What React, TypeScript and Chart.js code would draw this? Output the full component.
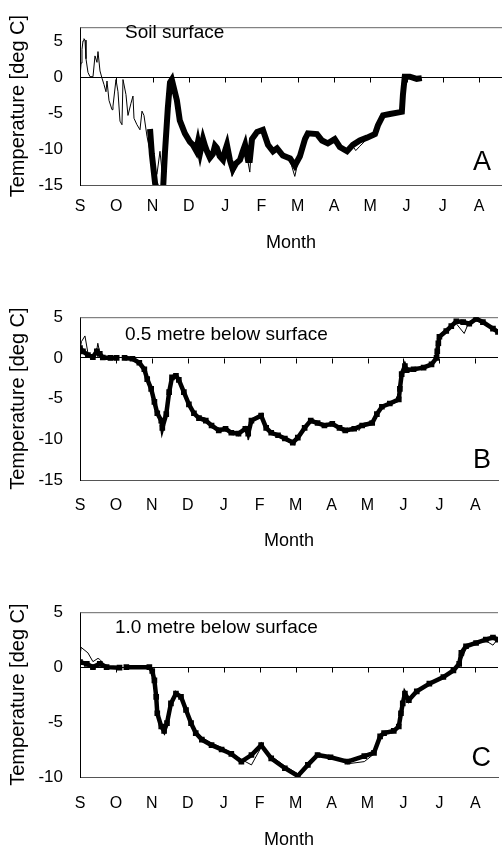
import React, { useEffect, useRef } from "react";
import { Chart, registerables } from "chart.js";
Chart.register(...registerables);

const FONT = "'Liberation Sans', Arial, sans-serif";
const MONTHS = ["S", "O", "N", "D", "J", "F", "M", "A", "M", "J", "J", "A"];
const X_MAX = 11.63;

// Panel A: soil surface (x = months since 1 September)
const A_MODEL_X = [1.93, 1.98, 2.07, 2.12, 2.29, 2.34, 2.42, 2.48, 2.53, 2.67, 2.75, 2.89, 3.03, 3.11, 3.20, 3.25, 3.31, 3.39, 3.45, 3.50, 3.58, 3.66, 3.72, 3.77, 3.85, 3.94, 4.00, 4.05, 4.13, 4.21, 4.30, 4.41, 4.48, 4.55, 4.63, 4.68, 4.74, 4.88, 5.04, 5.18, 5.32, 5.43, 5.59, 5.79, 5.92, 6.06, 6.20, 6.28, 6.53, 6.67, 6.83, 7.02, 7.16, 7.36, 7.52, 7.71, 7.91, 8.13, 8.21, 8.35, 8.54, 8.87, 8.90, 8.95, 9.09, 9.28, 9.42];
const A_MODEL_Y = [-7.2, -10.7, -14.8, -15.5, -15.5, -10.6, -4.3, -0.7, -0.3, -3.2, -6.0, -7.8, -9.0, -9.4, -10.2, -9.0, -10.5, -8.6, -9.6, -10.3, -11.2, -10.7, -9.5, -9.8, -11.0, -11.5, -10.2, -9.4, -11.5, -12.8, -12.0, -11.5, -10.4, -9.4, -11.5, -11.5, -8.6, -7.6, -7.3, -9.4, -10.3, -9.9, -10.9, -11.3, -12.3, -11.0, -8.6, -7.8, -7.9, -8.8, -9.2, -8.6, -9.7, -10.3, -9.4, -8.8, -8.4, -7.9, -6.7, -5.3, -5.1, -4.8, -2.4, 0.1, 0.1, -0.2, -0.1];
const A_MEAS_X = [0, 0.03, 0.055, 0.083, 0.11, 0.138, 0.165, 0.22, 0.275, 0.358, 0.413, 0.468, 0.496, 0.551, 0.606, 0.661, 0.716, 0.744, 0.799, 0.882, 0.909, 0.992, 1.047, 1.102, 1.157, 1.185, 1.267, 1.322, 1.405, 1.460, 1.488, 1.570, 1.653, 1.708, 1.763, 1.846, 1.928, 2.011, 2.121, 2.204, 2.29, 2.34, 2.42, 2.48, 2.53, 2.67, 2.75, 2.89, 3.03, 3.11, 3.31, 3.39, 3.50, 3.66, 3.77, 3.94, 4.05, 4.13, 4.19, 4.41, 4.55, 4.63, 4.68, 4.74, 4.88, 5.04, 5.18, 5.32, 5.43, 5.59, 5.79, 5.92, 6.06, 6.20, 6.28, 6.53, 6.67, 6.83, 7.02, 7.16, 7.36, 7.52, 7.60, 7.71, 7.91, 8.13, 8.21, 8.35, 8.54, 8.87, 8.90, 8.95, 9.09, 9.28, 9.45];
const A_MEAS_Y = [0, 2.0, 3.9, 5.1, 5.4, 5.2, 2.6, 0.7, 0.1, 0.1, 3.0, 2.1, 3.6, 0.9, -0.1, -1.0, -2.0, -0.5, -3.2, -4.5, -4.0, -0.3, -2.0, -6.1, -6.6, -0.3, -2.4, -5.3, -3.6, -2.6, -5.7, -6.6, -7.3, -4.7, -5.3, -8.2, -10.3, -12.3, -13.5, -10.3, -14.5, -10.4, -4.2, -0.8, -0.4, -3.0, -6.2, -7.6, -9.2, -9.0, -10.2, -8.2, -10.6, -10.2, -9.4, -11.8, -9.0, -11.2, -13.8, -11.2, -9.0, -11.8, -13.2, -8.3, -7.8, -7.5, -9.6, -10.0, -10.2, -10.6, -11.6, -13.8, -10.6, -8.4, -7.6, -8.1, -8.6, -9.4, -8.4, -9.9, -10.1, -9.6, -10.2, -9.6, -8.6, -7.7, -6.9, -5.5, -5.2, -4.9, -2.2, 0.2, 0.0, -0.1, 0.0];

// Panel B: 0.5 m below surface
const B_MODEL_X = [0, 0.083, 0.22, 0.358, 0.468, 0.551, 0.634, 0.85, 1.02, 1.13, 1.24, 1.46, 1.65, 1.79, 1.87, 1.98, 2.07, 2.15, 2.26, 2.29, 2.40, 2.48, 2.56, 2.67, 2.75, 2.89, 3.03, 3.17, 3.31, 3.50, 3.66, 3.86, 4.05, 4.21, 4.41, 4.60, 4.68, 4.77, 5.04, 5.18, 5.32, 5.51, 5.70, 5.92, 6.06, 6.25, 6.42, 6.61, 6.80, 7.02, 7.22, 7.38, 7.63, 7.85, 8.13, 8.26, 8.40, 8.62, 8.87, 8.90, 8.95, 9.04, 9.09, 9.28, 9.56, 9.78, 9.92, 9.94, 9.97, 10.0, 10.19, 10.33, 10.47, 10.66, 10.83, 11.02, 11.21, 11.49, 11.63];
const B_MODEL_Y = [1.2, 0.8, 0.35, 0.1, 0.8, 0.5, 0.05, 0, 0, null, 0, -0.1, -0.6, -1.4, -2.6, -3.8, -5.4, -6.8, -7.7, -8.6, -6.9, -4.2, -2.4, -2.2, -2.7, -4.2, -5.7, -6.8, -7.4, -7.7, -8.3, -8.9, -8.7, -9.2, -9.3, -8.7, -9.3, -7.7, -7.1, -8.6, -9.2, -9.5, -9.9, -10.4, -9.8, -8.6, -7.7, -8.0, -8.3, -8.1, -8.6, -8.9, -8.7, -8.3, -8.0, -6.9, -6.0, -5.6, -5.1, -3.8, -2.0, -1.0, -1.5, -1.4, -1.2, -0.8, 0, 0.8, 1.8, 2.6, 3.3, 3.9, 4.5, 4.4, 4.2, 4.8, 4.4, 3.6, 3.2];
const B_MEAS_X = [0, 0.04, 0.138, 0.22, 0.358, 0.468, 0.496, 0.551, 0.634, 0.85, 1.02, 1.13, 1.24, 1.46, 1.65, 1.79, 1.87, 1.98, 2.07, 2.15, 2.26, 2.31, 2.40, 2.48, 2.56, 2.67, 2.75, 2.89, 3.03, 3.17, 3.31, 3.50, 3.66, 3.86, 4.05, 4.21, 4.41, 4.60, 4.68, 4.77, 5.04, 5.18, 5.32, 5.51, 5.70, 5.97, 6.06, 6.25, 6.42, 6.61, 6.80, 7.02, 7.22, 7.38, 7.63, 7.77, 7.85, 8.13, 8.26, 8.40, 8.62, 8.87, 8.90, 8.95, 9.04, 9.09, 9.28, 9.56, 9.78, 9.92, 9.97, 10.0, 10.19, 10.33, 10.47, 10.69, 10.83, 11.02, 11.21, 11.49, 11.63];
const B_MEAS_Y = [1.0, 2.0, 2.7, 0.6, 0.2, 1.0, 1.8, 0.6, 0.1, 0, 0, null, 0, -0.1, -0.5, -1.3, -2.4, -3.6, -5.2, -6.6, -7.5, -8.2, -6.6, -4.0, -2.3, -2.3, -2.9, -4.4, -5.9, -6.6, -7.2, -7.4, -8.6, -8.6, -9.0, -9.0, -9.6, -8.5, -10.1, -7.5, -6.9, -8.8, -9.4, -9.3, -10.1, -10.7, -9.5, -8.8, -7.5, -7.8, -8.5, -7.9, -8.8, -9.1, -8.5, -8.9, -8.1, -7.8, -7.1, -5.8, -5.8, -5.3, -3.6, -1.8, -1.1, -1.6, -1.3, -1.1, -0.7, 0, 1.6, 2.8, 3.6, 4.1, 4.2, 3.0, 4.5, 4.6, 4.2, 3.8, 3.1];

// Panel C: 1.0 m below surface
const C_MODEL_X = [0, 0.19, 0.36, 0.55, 0.74, 1.10, 1.19, 1.29, 1.93, 2.01, 2.07, 2.12, 2.15, 2.26, 2.34, 2.42, 2.53, 2.67, 2.81, 2.95, 3.09, 3.22, 3.39, 3.66, 3.94, 4.21, 4.49, 4.77, 5.04, 5.32, 5.70, 6.06, 6.34, 6.61, 6.97, 7.44, 7.91, 8.18, 8.35, 8.46, 8.73, 8.87, 8.93, 8.98, 9.04, 9.15, 9.37, 9.72, 10.11, 10.39, 10.55, 10.61, 10.74, 11.02, 11.29, 11.49, 11.63];
const C_MODEL_Y = [0.45, 0.3, 0, 0.3, 0, -0.05, null, 0, 0, -0.35, -1.2, -2.7, -4.2, -5.4, -5.8, -5.1, -3.3, -2.4, -2.7, -3.9, -5.1, -6.0, -6.6, -7.1, -7.5, -7.9, -8.6, -8.0, -7.1, -8.3, -9.2, -9.9, -8.9, -8.0, -8.2, -8.6, -8.1, -7.8, -6.3, -6.0, -5.8, -5.4, -4.2, -3.3, -2.4, -3.0, -2.2, -1.5, -0.9, -0.3, 0.3, 1.3, 1.9, 2.2, 2.5, 2.7, 2.5];
const C_MEAS_X = [0, 0.03, 0.22, 0.36, 0.50, 0.55, 0.74, 1.10, 1.19, 1.29, 1.93, 2.01, 2.07, 2.12, 2.15, 2.26, 2.34, 2.42, 2.53, 2.67, 2.81, 2.95, 3.09, 3.22, 3.39, 3.66, 3.94, 4.21, 4.49, 4.77, 5.04, 5.32, 5.70, 6.06, 6.34, 6.61, 6.97, 7.44, 7.91, 8.18, 8.35, 8.46, 8.73, 8.87, 8.93, 8.98, 9.04, 9.15, 9.37, 9.72, 10.11, 10.39, 10.55, 10.66, 10.74, 11.02, 11.29, 11.49, 11.63];
const C_MEAS_Y = [1.0, 1.8, 1.3, 0.5, 0.8, 0.7, 0.05, 0, null, 0, 0, -0.3, -1.1, -2.6, -4.0, -5.3, -5.6, -4.9, -3.2, -2.3, -2.6, -3.7, -4.9, -5.8, -6.4, -6.9, -7.3, -7.8, -8.4, -8.9, -7.3, -8.1, -9.0, -9.7, -8.7, -7.9, -8.1, -8.8, -8.6, -7.9, -6.2, -6.0, -5.7, -5.3, -4.1, -3.2, -2.5, -2.9, -2.1, -1.4, -0.8, -0.2, 0.4, 1.0, 1.7, 2.3, 2.4, 2.0, 2.6];

const Y_TITLE = "Temperature [deg C]";
const X_TITLE = "Month";

type PanelCfg = {
  top: number; height: number; areaTop: number; areaBottom: number;
  labelCenter: number; monthCenter: number;
  yMin: number; yMax: number;
  modelX: number[]; modelY: (number | null)[];
  measX: number[]; measY: (number | null)[];
  thick: number; pointR: number;
  note: string; noteX: number; noteBase: number;
  letter: string; letterBase: number;
};

const PANELS: PanelCfg[] = [
  {
    top: 0, height: 262, areaTop: 8, areaBottom: 185, labelCenter: 207, monthCenter: 243,
    yMin: -15, yMax: 7, modelX: A_MODEL_X, modelY: A_MODEL_Y, measX: A_MEAS_X, measY: A_MEAS_Y,
    thick: 6, pointR: 0, note: "Soil surface", noteX: 125, noteBase: 38, letter: "A", letterBase: 170,
  },
  {
    top: 290, height: 265, areaTop: 312, areaBottom: 480, labelCenter: 506, monthCenter: 541,
    yMin: -15, yMax: 5, modelX: B_MODEL_X, modelY: B_MODEL_Y, measX: B_MEAS_X, measY: B_MEAS_Y,
    thick: 4.5, pointR: 4, note: "0.5 metre below surface", noteX: 125, noteBase: 340, letter: "B", letterBase: 468,
  },
  {
    top: 585, height: 265, areaTop: 607, areaBottom: 777, labelCenter: 804, monthCenter: 840,
    yMin: -10, yMax: 5, modelX: C_MODEL_X, modelY: C_MODEL_Y, measX: C_MEAS_X, measY: C_MEAS_Y,
    thick: 4.5, pointR: 4, note: "1.0 metre below surface", noteX: 115, noteBase: 633, letter: "C", letterBase: 766,
  },
];

function Panel({ cfg }: { cfg: PanelCfg }) {
  const ref = useRef<HTMLCanvasElement>(null);
  useEffect(() => {
    const toPts = (xs: number[], ys: (number | null)[]) => xs.map((x, i) => ({ x, y: ys[i] }));
    const tickFont = 16, yTickFont = 17, titleFont = 18, yTitleFont = 20;
    const decor = {
      id: "decor",
      beforeDatasetsDraw(chart: any) {
        const { ctx, chartArea, scales } = chart;
        const y0 = Math.round(scales.y.getPixelForValue(0)) + 0.5;
        ctx.save();
        ctx.strokeStyle = "#000";
        ctx.lineWidth = 1;
        ctx.beginPath();
        for (let m = 1; m < MONTHS.length; m++) {
          const x = Math.round(scales.x.getPixelForValue(m)) + 0.5;
          ctx.moveTo(x, y0);
          ctx.lineTo(x, y0 + 5);
        }
        ctx.stroke();
        ctx.strokeStyle = "#666";
        ctx.beginPath();
        ctx.moveTo(chartArea.left, chartArea.top + 0.5);
        ctx.lineTo(chartArea.right, chartArea.top + 0.5);
        ctx.stroke();
        ctx.restore();
      },
      afterDraw(chart: any) {
        const { ctx } = chart;
        ctx.save();
        ctx.fillStyle = "#000";
        ctx.textBaseline = "alphabetic";
        ctx.textAlign = "left";
        ctx.font = `19px ${FONT}`;
        ctx.fillText(cfg.note, cfg.noteX, cfg.noteBase - cfg.top);
        ctx.textAlign = "right";
        ctx.font = `27px ${FONT}`;
        ctx.fillText(cfg.letter, 491, cfg.letterBase - cfg.top);
        ctx.restore();
      },
    };
    const chart = new Chart(ref.current as HTMLCanvasElement, {
      type: "line",
      data: {
        datasets: [
          {
            data: toPts(cfg.modelX, cfg.modelY) as any,
            borderColor: "#000",
            backgroundColor: "#000",
            borderWidth: cfg.thick,
            pointRadius: cfg.pointR,
            pointStyle: "rect",
            pointBackgroundColor: "#000",
            pointBorderWidth: 0,
            spanGaps: false,
            order: 1,
          },
          {
            data: toPts(cfg.measX, cfg.measY) as any,
            borderColor: "#000",
            borderWidth: 1,
            pointRadius: 0,
            spanGaps: false,
            order: 2,
          },
        ],
      },
      options: {
        responsive: false,
        animation: false,
        layout: { padding: { top: cfg.areaTop - cfg.top, left: 0, right: 0, bottom: 0 } },
        plugins: { legend: { display: false }, tooltip: { enabled: false } },
        scales: {
          x: {
            type: "linear",
            min: 0,
            max: X_MAX,
            grid: { display: false, drawTicks: false },
            border: { display: true, color: "#555", width: 1 },
            ticks: {
              stepSize: 1,
              includeBounds: false,
              autoSkip: false,
              maxRotation: 0,
              padding: cfg.labelCenter - cfg.areaBottom - (tickFont * 1.2) / 2,
              color: "#000",
              font: { size: tickFont, family: FONT },
              callback: (v: any) => (Number.isInteger(v) && MONTHS[v] !== undefined ? MONTHS[v] : ""),
            },
            title: {
              display: true,
              text: X_TITLE,
              color: "#000",
              font: { size: titleFont, family: FONT },
              padding: { top: 0, bottom: cfg.top + cfg.height - cfg.monthCenter - (titleFont * 1.2) / 2 },
            },
            afterFit: (s: any) => {
              s.height = cfg.top + cfg.height - cfg.areaBottom;
            },
          },
          y: {
            min: cfg.yMin,
            max: cfg.yMax,
            grid: {
              drawTicks: false,
              lineWidth: 1,
              color: (c: any) => (c.tick && c.tick.value === 0 ? "#000" : "rgba(0,0,0,0)"),
            },
            border: { display: true, color: "#000", width: 1 },
            ticks: {
              stepSize: 5,
              includeBounds: false,
              padding: 17,
              color: "#000",
              font: { size: yTickFont, family: FONT },
            },
            title: {
              display: true,
              text: Y_TITLE,
              color: "#000",
              font: { size: yTitleFont, family: FONT },
              padding: { top: 6, bottom: 0 },
            },
            afterFit: (s: any) => {
              s.width = 80;
            },
          },
        },
      } as any,
      plugins: [decor],
    });
    return () => chart.destroy();
  }, [cfg]);
  return (
    <canvas
      ref={ref}
      width={502}
      height={cfg.height}
      style={{ position: "absolute", left: 0, top: cfg.top, width: 502, height: cfg.height, display: "block" }}
    />
  );
}

export default function App() {
  useEffect(() => {
    document.body.style.margin = "0";
    document.body.style.background = "#fff";
  }, []);
  return (
    <div style={{ position: "relative", width: 502, height: 850, overflow: "hidden", background: "#fff" }}>
      {PANELS.map((p, i) => (
        <Panel key={i} cfg={p} />
      ))}
    </div>
  );
}
